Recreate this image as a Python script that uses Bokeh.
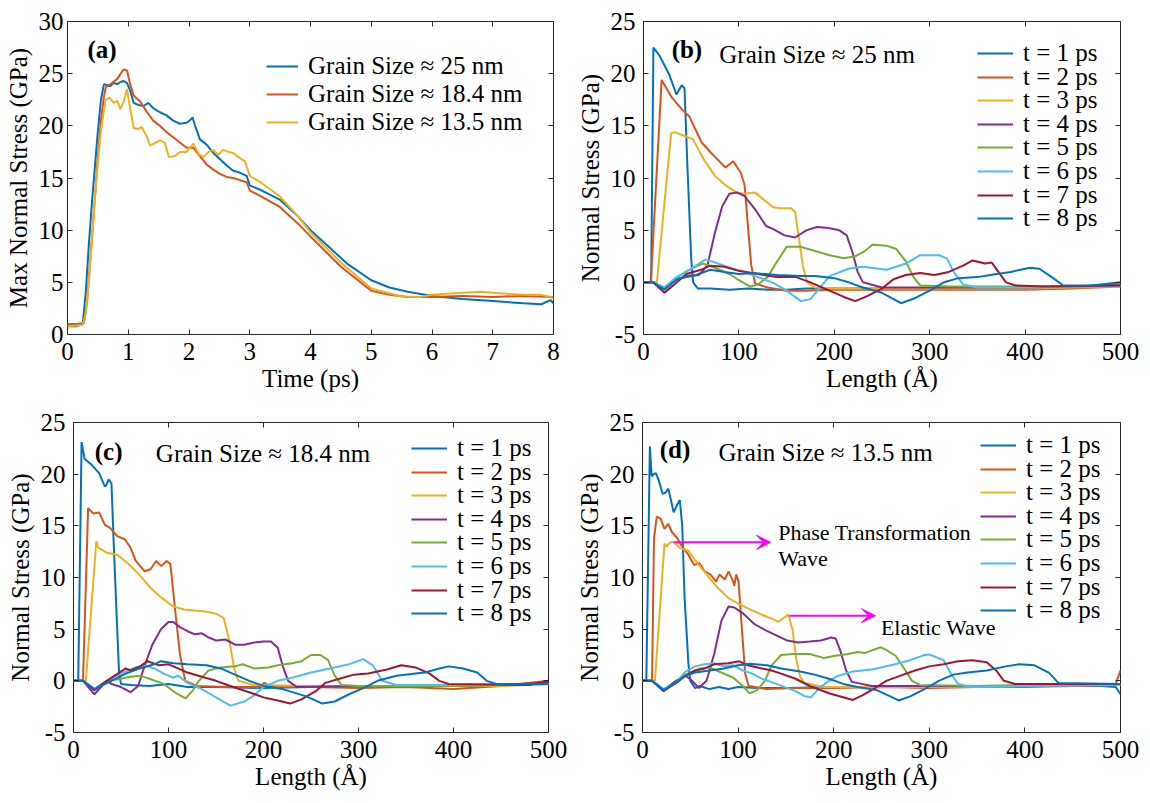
from bokeh.plotting import figure
from bokeh.models import Range1d, LinearAxis, FixedTicker, Legend, LegendItem, Label, Arrow, VeeHead
from bokeh.layouts import column, row
from bokeh.embed import file_html
from bokeh.resources import INLINE

# ---------------- data ----------------
# (a) max normal stress vs time
a_t25 = [0, 0.15, 0.25, 0.3, 0.35, 0.4, 0.45, 0.5, 0.55, 0.6, 0.7, 0.76, 0.82, 0.87, 0.93, 0.98, 1.03, 1.09, 1.17, 1.25, 1.33, 1.41, 1.52, 1.63, 1.74, 1.85, 1.96, 2.01, 2.06, 2.1, 2.18, 2.29, 2.4, 2.51, 2.62, 2.73, 2.84, 2.95, 3.0, 3.2, 3.5, 3.8, 4.0, 4.3, 4.6, 5.0, 5.3, 5.6, 6.0, 6.5, 7.0, 7.5, 7.8, 7.95, 8.0]
a_s25 = [0.8, 0.8, 1.0, 4.0, 8.5, 12.5, 16.0, 19.5, 22.5, 24.0, 23.8, 24.1, 24.0, 24.2, 24.3, 24.1, 23.4, 22.2, 22.0, 21.9, 22.2, 21.7, 21.3, 21.0, 20.5, 20.2, 20.3, 20.5, 20.8, 20.0, 18.7, 18.2, 17.4, 16.8, 16.2, 15.7, 15.5, 15.2, 14.3, 13.8, 12.9, 11.3, 10.0, 8.4, 6.8, 5.2, 4.5, 4.1, 3.7, 3.4, 3.2, 3.0, 2.9, 3.3, 3.0]
a_t18 = [0, 0.15, 0.27, 0.32, 0.4, 0.45, 0.5, 0.55, 0.6, 0.63, 0.71, 0.82, 0.92, 0.98, 1.03, 1.09, 1.2, 1.31, 1.41, 1.52, 1.63, 1.74, 1.85, 1.96, 2.07, 2.18, 2.29, 2.4, 2.51, 2.62, 2.73, 2.84, 2.95, 3.0, 3.2, 3.5, 3.8, 4.0, 4.5, 5.0, 5.3, 5.6, 6.0, 6.5, 7.0, 7.5, 8.0]
a_s18 = [1.0, 1.0, 1.1, 3.0, 9.0, 13.0, 17.0, 20.5, 22.8, 23.7, 24.0, 24.5, 25.4, 25.3, 24.0, 22.9, 22.3, 21.3, 20.5, 20.0, 19.4, 18.9, 18.4, 17.9, 17.9, 17.1, 16.3, 15.8, 15.4, 15.1, 15.0, 14.8, 14.6, 13.8, 13.2, 12.2, 10.6, 9.4, 6.5, 4.2, 3.8, 3.6, 3.6, 3.7, 3.6, 3.7, 3.6]
a_t13 = [0, 0.25, 0.3, 0.35, 0.4, 0.45, 0.5, 0.55, 0.6, 0.63, 0.69, 0.76, 0.82, 0.87, 0.93, 0.98, 1.03, 1.09, 1.17, 1.22, 1.31, 1.36, 1.45, 1.52, 1.6, 1.67, 1.77, 1.85, 1.96, 2.07, 2.16, 2.24, 2.32, 2.4, 2.48, 2.56, 2.65, 2.73, 2.84, 2.92, 3.0, 3.2, 3.5, 3.8, 4.0, 4.5, 5.0, 5.5, 5.8, 6.0, 6.5, 6.8, 7.0, 7.5, 7.8, 8.0]
a_s13 = [0.8, 0.9, 2.0, 5.0, 9.0, 13.0, 16.5, 19.5, 21.5, 22.5, 22.7, 22.2, 22.4, 21.6, 22.4, 23.5, 21.7, 19.8, 19.7, 19.9, 18.9, 18.1, 18.4, 18.6, 18.4, 17.0, 17.1, 17.5, 17.5, 18.3, 17.3, 17.0, 17.5, 17.7, 17.2, 17.7, 17.5, 17.4, 16.9, 16.6, 15.2, 14.5, 13.2, 11.3, 9.8, 6.9, 4.4, 3.65, 3.6, 3.8, 4.0, 4.1, 4.0, 3.8, 3.8, 3.5]
a_labels = ["Grain Size \u2248 25 nm", "Grain Size \u2248 18.4 nm", "Grain Size \u2248 13.5 nm"]

# (b) grain size 25 nm, stress profiles
b1_x = [0, 8, 10.4, 17, 27, 34.5, 40, 43, 46, 50, 52, 57, 70, 90, 110, 130, 150, 170, 200, 250, 300, 350, 400, 450, 500]
b1_y = [0, 0, 22.5, 21.7, 19.9, 18.0, 18.9, 18.6, 11.2, 2.3, 0, -0.6, -0.6, -0.7, -0.6, -0.7, -0.7, -0.6, -0.6, -0.6, -0.6, -0.5, -0.5, -0.4, -0.3]
b2_x = [0, 7.7, 19, 29, 40, 48, 61, 71, 80.6, 86, 94, 102, 106, 110, 113, 117, 130, 150, 170, 200, 250, 300, 350, 400, 450, 500]
b2_y = [0, 0, 19.4, 17.8, 16.6, 15.9, 13.4, 12.4, 11.5, 11.0, 11.6, 10.5, 9.3, 4.8, 1.6, -0.1, -0.5, -0.8, -0.8, -0.7, -0.7, -0.7, -0.7, -0.7, -0.6, -0.4]
b3_x = [0, 14, 29, 32.6, 44, 52, 63, 75, 86, 98, 105.5, 117, 125, 136, 144, 155, 159, 163, 167, 171.5, 180, 200, 250, 300, 350, 400, 450, 500]
b3_y = [0, 0, 14.3, 14.4, 14.0, 13.7, 11.8, 10.2, 9.3, 8.6, 8.5, 8.6, 8.0, 7.2, 7.1, 7.1, 6.7, 4.2, 1.6, 0, -0.5, -0.6, -0.6, -0.6, -0.6, -0.6, -0.5, -0.4]
b4_x = [0, 10, 20, 35, 50, 58, 67, 75, 82.5, 90, 98, 105.5, 117, 128.5, 136, 148, 159, 171, 182, 194, 205, 213, 219, 224.5, 230, 250, 300, 350, 400, 450, 500]
b4_y = [0, 0, -0.6, 0.3, 0.6, 0.7, 1.6, 4.8, 7.3, 8.5, 8.6, 8.3, 7.0, 5.4, 5.1, 4.5, 4.3, 5.0, 5.3, 5.2, 5.0, 4.5, 2.9, 1.0, 0, -0.5, -0.5, -0.5, -0.5, -0.4, -0.2]
b5_x = [0, 10, 22, 35, 50, 62, 75, 90, 100, 112, 120, 130, 140, 150, 165, 180, 195, 210, 222, 232, 240, 255, 265, 275, 283, 290, 320, 400, 500]
b5_y = [0, 0, -0.5, 0.5, 1.3, 1.8, 1.4, 0.8, 0.2, -0.4, -0.2, 0.5, 2.0, 3.4, 3.4, 3.0, 2.6, 2.3, 2.5, 3.0, 3.6, 3.5, 3.2, 2.0, 0.5, -0.3, -0.4, -0.4, -0.3]
b6_x = [0, 10, 22, 35, 55, 65, 75, 90, 105, 120, 135, 150, 165, 175, 185, 195, 215, 230, 255, 275, 290, 310, 318, 325, 335, 350, 400, 500]
b6_y = [0, 0, -0.5, 0.5, 1.6, 2.2, 1.9, 1.4, 1.0, 0.5, 0, -0.8, -1.8, -1.6, -0.5, 0.6, 1.3, 1.5, 1.2, 1.8, 2.6, 2.6, 2.3, 1.0, -0.2, -0.5, -0.5, -0.4]
b7_x = [0, 10, 22, 35, 45, 60, 70, 85, 100, 120, 140, 160, 175, 190, 210, 222, 235, 250, 262, 275, 290, 305, 320, 335, 345, 358, 365, 372, 380, 390, 420, 500]
b7_y = [0, 0, -1.0, 0, 0.8, 1.2, 1.6, 1.5, 1.1, 0.8, 0.5, 0.5, 0, -0.6, -1.4, -1.8, -1.3, -0.6, 0.3, 0.7, 0.9, 0.7, 1.0, 1.6, 2.1, 1.8, 1.9, 1.0, 0, -0.3, -0.4, -0.3]
b8_x = [0, 10, 22, 35, 45, 55, 70, 85, 100, 115, 140, 165, 180, 200, 215, 230, 250, 270, 285, 300, 315, 330, 350, 370, 385, 405, 415, 428, 440, 470, 500]
b8_y = [0, 0, -0.7, 0.3, 0.6, 0.7, 1.2, 1.0, 0.8, 0.9, 0.7, 0.6, 0.6, 0.4, 0, -0.5, -1.0, -2.0, -1.5, -0.8, 0, 0.4, 0.5, 0.8, 1.0, 1.4, 1.3, 0.5, -0.3, -0.3, 0]

# (c) grain size 18.4 nm
c1_x = [0, 5, 8.5, 11.6, 19, 27, 33, 35, 37, 40, 42, 45.5, 48, 50, 60, 80, 100, 120, 150, 200, 250, 300, 350, 400, 450, 500]
c1_y = [0, 0, 23.1, 21.5, 20.9, 20.1, 18.8, 19.0, 19.5, 19.1, 14.1, 6.1, 0.7, -0.3, -0.4, -0.5, -0.3, -0.6, -0.6, -0.7, -0.6, -0.5, -0.5, -0.5, -0.4, -0.3]
c2_x = [0, 10, 15.4, 21, 27, 33, 38.5, 46, 54, 60, 65.5, 75, 81, 87, 92.5, 98, 102, 106, 112, 117.6, 130, 160, 195, 201, 207, 250, 300, 350, 400, 450, 500]
c2_y = [0, 0, 16.7, 16.2, 16.3, 15.1, 14.8, 14.0, 13.7, 12.9, 11.6, 10.6, 10.8, 11.6, 11.1, 11.6, 11.3, 7.7, 2.6, 0, -0.5, -0.6, -0.6, -0.2, -0.6, -0.6, -0.7, -0.6, -0.8, -0.5, 0]
c3_x = [0, 13, 24, 26, 35, 46, 58, 69, 81, 92.5, 104, 116, 127, 139, 150, 158, 164, 169.6, 173.5, 190, 250, 300, 350, 400, 450, 500]
c3_y = [0, 0, 13.5, 12.9, 12.4, 12.2, 11.3, 10.3, 9.0, 8.05, 7.25, 6.9, 6.8, 6.7, 6.5, 6.1, 3.9, 1.0, 0, -0.4, -0.5, -0.5, -0.5, -0.5, -0.5, -0.3]
c4_x = [0, 10, 22, 35, 40, 50, 60, 68, 75, 83, 92, 100, 105, 112, 120, 128, 135, 142, 150, 160, 170, 180, 190, 200, 208, 215, 220, 226, 235, 300, 400, 500]
c4_y = [0, 0, -1.3, 0, -0.3, -0.6, -1.1, -0.5, 1.5, 3.5, 5.0, 5.7, 5.7, 5.2, 4.8, 4.5, 4.6, 4.2, 3.9, 4.0, 3.5, 3.5, 3.7, 3.8, 3.8, 3.2, 1.5, 0, -0.6, -0.5, -0.5, -0.2]
c5_x = [0, 10, 22, 35, 50, 60, 70, 80, 95, 108, 118, 125, 132, 142, 155, 170, 178, 190, 205, 215, 230, 240, 250, 260, 268, 275, 282, 300, 400, 500]
c5_y = [0, 0, -0.8, 0, 0.2, 0.4, 0.5, 0.2, -0.3, -1.2, -1.7, -1.0, 0, 1.0, 1.3, 1.4, 1.6, 1.2, 1.3, 1.5, 1.7, 1.9, 2.5, 2.5, 2.0, 0.5, -0.4, -0.5, -0.5, -0.3]
c6_x = [0, 10, 22, 35, 50, 65, 75, 85, 95, 105, 110, 120, 135, 150, 165, 180, 190, 200, 215, 230, 250, 270, 290, 305, 315, 325, 340, 400, 500]
c6_y = [0, 0, -0.8, 0, 0.7, 1.3, 1.5, 1.2, 0.7, 0.3, 0.5, -0.2, -0.8, -1.6, -2.4, -2.0, -1.4, -0.6, 0, 0.3, 0.8, 1.2, 1.6, 2.1, 1.5, 0, -0.4, -0.4, -0.3]
c7_x = [0, 10, 22, 35, 45, 55, 60, 70, 78, 90, 100, 110, 120, 135, 150, 165, 185, 200, 215, 228, 240, 255, 265, 280, 295, 310, 330, 345, 360, 375, 385, 395, 480, 500]
c7_y = [0, 0, -0.9, 0, 0.6, 1.2, 1.0, 1.4, 1.9, 1.5, 1.6, 1.2, 0.8, 0.4, 0, -0.5, -1.1, -1.6, -1.9, -2.2, -1.8, -1.0, -0.2, 0.2, 0.6, 0.7, 1.1, 1.5, 1.3, 0.7, 0, -0.3, -0.4, 0]
c8_x = [0, 10, 22, 40, 55, 70, 85, 92, 105, 120, 140, 155, 170, 185, 200, 220, 245, 262, 275, 290, 305, 320, 340, 360, 370, 385, 395, 410, 425, 435, 445, 500]
c8_y = [0, 0, -0.8, 0, 0.7, 1.2, 1.6, 1.9, 1.7, 1.6, 1.5, 1.2, 0.6, 0, -0.5, -0.8, -1.5, -2.2, -2.0, -1.3, -0.7, 0, 0.5, 0.7, 0.8, 1.2, 1.4, 1.2, 0.8, 0, -0.3, -0.3]

# (d) grain size 13.5 nm
d1_x = [0, 4, 7.7, 9.6, 11.5, 14, 17, 21, 24, 27, 29.5, 32.6, 36, 39, 41.5, 44, 48, 50, 55, 60, 70, 80, 90, 100, 120, 150, 200, 300, 400, 480, 495, 500]
d1_y = [0, 0, 22.7, 19.8, 20.0, 20.1, 19.4, 18.1, 18.2, 18.6, 17.6, 16.3, 17.0, 17.5, 15.1, 8.1, 1.7, 0, -0.7, -0.5, -0.8, -0.6, -0.8, -0.6, -0.7, -0.7, -0.6, -0.6, -0.5, -0.5, -0.6, -1.3]
d2_x = [0, 10, 12, 15, 19, 23, 27, 30.7, 36.5, 40, 44, 48, 54, 59.5, 65, 71, 77, 80.6, 86, 90, 94, 96, 98, 100.5, 103.6, 107.4, 111, 130, 160, 200, 250, 300, 350, 400, 450, 495, 500]
d2_y = [0, 0, 13.8, 15.9, 15.7, 14.7, 15.2, 14.4, 13.8, 13.2, 12.7, 12.2, 11.2, 11.4, 10.6, 10.3, 9.6, 10.3, 9.8, 10.6, 9.8, 9.2, 10.3, 9.6, 5.5, 0.7, -0.5, -0.8, -0.7, -0.7, -0.6, -0.7, -0.6, -0.6, -0.5, -0.3, 1.0]
d3_x = [0, 13, 23, 25, 29, 32.6, 40, 48, 55.6, 67, 78.7, 90, 101.7, 113, 124.7, 136, 142, 147.7, 152.7, 157, 161, 165, 169, 190, 250, 300, 400, 500]
d3_y = [0, 0, 13.3, 13.0, 13.4, 13.4, 12.8, 12.6, 11.6, 10.3, 9.0, 8.0, 7.4, 6.9, 6.4, 6.0, 5.7, 6.1, 6.4, 4.9, 2.0, 0.4, -0.2, -0.6, -0.6, -0.6, -0.5, -0.4]
d4_x = [0, 10, 22, 35, 45, 52, 59, 67, 75, 82.5, 90, 96, 105.5, 117, 128.5, 140, 151.5, 163, 175, 186.5, 197.5, 202, 207, 213, 219, 240, 300, 400, 500]
d4_y = [0, 0, -0.9, 0, 0.5, 0, -0.7, 0, 2.6, 5.8, 7.2, 7.1, 6.5, 5.5, 4.9, 4.4, 3.9, 3.7, 3.8, 3.9, 4.2, 4.1, 2.9, 1.0, -0.1, -0.5, -0.5, -0.5, -0.4]
d5_x = [0, 10, 22, 35, 45, 60, 70, 80, 95, 105, 112, 120, 128, 135, 145, 157, 175, 190, 200, 215, 225, 233, 249, 255, 265, 275, 282, 290, 350, 400, 500]
d5_y = [0, 0, -0.9, -0.2, 0.6, 1.2, 1.3, 0.9, 0.3, -0.5, -1.2, -0.9, 0, 1.5, 2.5, 2.6, 2.6, 2.2, 2.4, 2.6, 2.8, 2.7, 3.25, 3.0, 2.4, 1.0, 0, -0.4, -0.5, -0.4, -0.3]
d6_x = [0, 10, 22, 35, 45, 55, 65, 75, 85, 95, 105, 115, 125, 140, 160, 170, 176, 185, 195, 205, 220, 240, 260, 280, 295, 300, 315, 322, 330, 345, 400, 500]
d6_y = [0, 0, -0.8, -0.2, 0.9, 1.4, 1.6, 1.7, 1.4, 1.5, 1.0, 0.7, 0.2, -0.3, -1.0, -1.5, -1.6, -0.7, 0, 0.5, 0.9, 1.1, 1.5, 2.0, 2.5, 2.55, 2.0, 0.8, -0.3, -0.6, -0.5, -0.4]
d7_x = [0, 10, 22, 35, 45, 55, 65, 75, 90, 101, 110, 125, 135, 145, 160, 175, 195, 220, 230, 245, 255, 270, 285, 300, 315, 330, 345, 360, 370, 378, 390, 500]
d7_y = [0, 0, -1.0, -0.2, 0.5, 1.0, 1.2, 1.6, 1.7, 1.9, 1.5, 1.2, 1.0, 0.7, 0.2, -0.5, -1.2, -1.85, -1.4, -0.6, 0, 0.5, 1.0, 1.4, 1.6, 1.9, 2.0, 1.8, 1.0, 0, -0.3, -0.3]
d8_x = [0, 10, 22, 35, 45, 55, 70, 85, 100, 112, 130, 145, 165, 180, 195, 210, 225, 245, 268, 280, 295, 310, 325, 340, 360, 380, 394, 410, 425, 435, 500]
d8_y = [0, 0, -0.9, -0.2, 0.5, 0.8, 1.0, 1.2, 1.5, 1.65, 1.5, 1.2, 0.9, 0.6, 0.2, -0.3, -0.6, -0.9, -1.9, -1.5, -0.8, 0, 0.6, 0.8, 1.0, 1.4, 1.6, 1.5, 0.8, -0.2, -0.3]

t_labels = ["t = %d ps" % k for k in range(1, 9)]
a_ticks_x = [0, 1, 2, 3, 4, 5, 6, 7, 8]
a_ticks_y = [0, 5, 10, 15, 20, 25, 30]
len_ticks_x = [0, 100, 200, 300, 400, 500]
len_ticks_y = [-5, 0, 5, 10, 15, 20, 25]

# ---------------- style ----------------
FONT = "Liberation Serif"
INK = "#262626"
COLORS = ["#0072BD", "#D95319", "#EDB120", "#7E2F8E", "#77AC30", "#4DBEEE", "#A2142F", "#0072BD"]
MAGENTA = "#FF00FF"
ROW_H = 23.6   # legend row pitch in panels (b)-(d), pixels


def style_axis(ax, standoff=8, label_standoff=4):
    ax.axis_line_color = None
    ax.major_tick_in = 5
    ax.major_tick_out = 0
    ax.major_tick_line_color = INK
    ax.minor_tick_line_color = None
    ax.major_label_text_font = FONT
    ax.major_label_text_font_size = "25px"
    ax.major_label_text_color = "black"
    ax.major_label_standoff = standoff
    ax.axis_label_text_font = FONT
    ax.axis_label_text_font_size = "25px"
    ax.axis_label_text_font_style = "normal"
    ax.axis_label_text_color = "black"
    ax.axis_label_standoff = label_standoff


def make_fig(xr, yr, xt, yt, xlabel, ylabel, fw, fh, bl, br, bt, bb, ystand=8):
    p = figure(width=bl + fw + br, height=bt + fh + bb,
               x_range=Range1d(*xr), y_range=Range1d(*yr),
               output_backend="svg", toolbar_location=None,
               min_border_left=bl, min_border_right=br, min_border_top=bt, min_border_bottom=bb,
               x_axis_label=xlabel, y_axis_label=ylabel)
    p.grid.visible = False
    p.outline_line_color = INK
    p.outline_line_width = 1
    p.background_fill_color = "white"
    p.border_fill_color = "white"
    p.xaxis.ticker = FixedTicker(ticks=xt)
    p.yaxis.ticker = FixedTicker(ticks=yt)
    style_axis(p.xaxis[0], standoff=8, label_standoff=2)
    style_axis(p.yaxis[0], standoff=ystand, label_standoff=4)
    p.yaxis[0].major_label_overrides = {v: str(v) for v in yt}
    # unlabeled inward ticks on the top and right edges (box style)
    top = LinearAxis(ticker=FixedTicker(ticks=xt))
    right = LinearAxis(ticker=FixedTicker(ticks=yt))
    style_axis(top, standoff=0)
    style_axis(right, standoff=0)
    top.major_label_overrides = {v: "" for v in xt}
    right.major_label_overrides = {v: "" for v in yt}
    p.add_layout(top, "above")
    p.add_layout(right, "right")
    return p


def make_legend(items, loc, spacing, glyph_width, standoff):
    lg = Legend(items=items, location=loc)
    lg.border_line_color = None
    lg.background_fill_alpha = 0
    lg.padding = 0
    lg.margin = 0
    lg.spacing = spacing
    lg.glyph_width = glyph_width
    lg.glyph_height = 20
    lg.label_height = 20
    lg.label_standoff = standoff
    lg.label_text_font = FONT
    lg.label_text_font_size = "25px"
    lg.label_text_color = "black"
    return lg


def add_text(p, x, y, text, size="25px", bold=False):
    p.add_layout(Label(x=x, y=y, text=text, text_font=FONT, text_font_size=size,
                       text_font_style="bold" if bold else "normal",
                       text_baseline="middle", text_align="left", text_color="black"))


# ---------------- panel (a) ----------------
pa = make_fig((0, 8), (0, 30), a_ticks_x, a_ticks_y, "Time (ps)", "Max Normal Stress (GPa)",
              486, 313, 67, 20, 21, 71, ystand=4)
a_series = [(a_t25, a_s25), (a_t18, a_s18), (a_t13, a_s13)]
a_items = []
for (xs, ys), col, lab in zip(a_series, COLORS[:3], a_labels):
    r = pa.line(xs, ys, line_color=col, line_width=2)
    a_items.append(LegendItem(label=lab, renderers=[r]))
pa.add_layout(make_legend(a_items, (199, 198), 0, 32, 10))
add_text(pa, 0.33, 27.3, "(a)", bold=True)


def stress_panel(series, label_letter, grain_text, lx, ly, gx, gy, fw, fh, bl, br, bt, bb, leg_x, leg_y0):
    p = make_fig((0, 500), (-5, 25), len_ticks_x, len_ticks_y, "Length (\u00c5)", "Normal Stress (GPa)",
                 fw, fh, bl, br, bt, bb)
    for i, ((xs, ys), col, lab) in enumerate(zip(series, COLORS, t_labels)):
        r = p.line(xs, ys, line_color=col, line_width=2)
        # one single-entry legend per row, to get the tight row pitch of the original
        p.add_layout(make_legend([LegendItem(label=lab, renderers=[r])],
                                 (leg_x, round(leg_y0 - ROW_H * i)), 0, 36, 10))
    add_text(p, lx, ly, label_letter, bold=True)
    add_text(p, gx, gy, grain_text)
    return p


b_series = [(b1_x, b1_y), (b2_x, b2_y), (b3_x, b3_y), (b4_x, b4_y),
            (b5_x, b5_y), (b6_x, b6_y), (b7_x, b7_y), (b8_x, b8_y)]
c_series = [(c1_x, c1_y), (c2_x, c2_y), (c3_x, c3_y), (c4_x, c4_y),
            (c5_x, c5_y), (c6_x, c6_y), (c7_x, c7_y), (c8_x, c8_y)]
d_series = [(d1_x, d1_y), (d2_x, d2_y), (d3_x, d3_y), (d4_x, d4_y),
            (d5_x, d5_y), (d6_x, d6_y), (d7_x, d7_y), (d8_x, d8_y)]

pb = stress_panel(b_series, "(b)", "Grain Size \u2248 25 nm", 29.5, 22.3, 79.4, 21.8,
                  478, 315, 69, 30, 21, 69, 334, 267)
pc = stress_panel(c_series, "(c)", "Grain Size \u2248 18.4 nm", 22.4, 22.2, 86.7, 22.0,
                  475, 313, 73, 22, 14, 71, 338, 270)
pd = stress_panel(d_series, "(d)", "Grain Size \u2248 13.5 nm", 18.0, 22.4, 79.4, 22.1,
                  478, 314, 72, 30, 17, 67, 338, 273)

# annotations in (d)
pd.add_layout(Arrow(x_start=32.6, y_start=13.4, x_end=134, y_end=13.4, line_color=MAGENTA, line_width=2,
                    end=VeeHead(size=14, fill_color=MAGENTA, line_color=MAGENTA)))
pd.add_layout(Arrow(x_start=153.5, y_start=6.3, x_end=243.7, y_end=6.3, line_color=MAGENTA, line_width=2,
                    end=VeeHead(size=14, fill_color=MAGENTA, line_color=MAGENTA)))
add_text(pd, 142, 14.4, "Phase Transformation", size="22px")
add_text(pd, 142, 11.8, "Wave", size="22px")
add_text(pd, 249.4, 5.2, "Elastic Wave", size="22px")

layout = column(row(pa, pb, spacing=0), row(pc, pd, spacing=0), spacing=0)
open("out.html", "w").write(file_html(layout, INLINE))
